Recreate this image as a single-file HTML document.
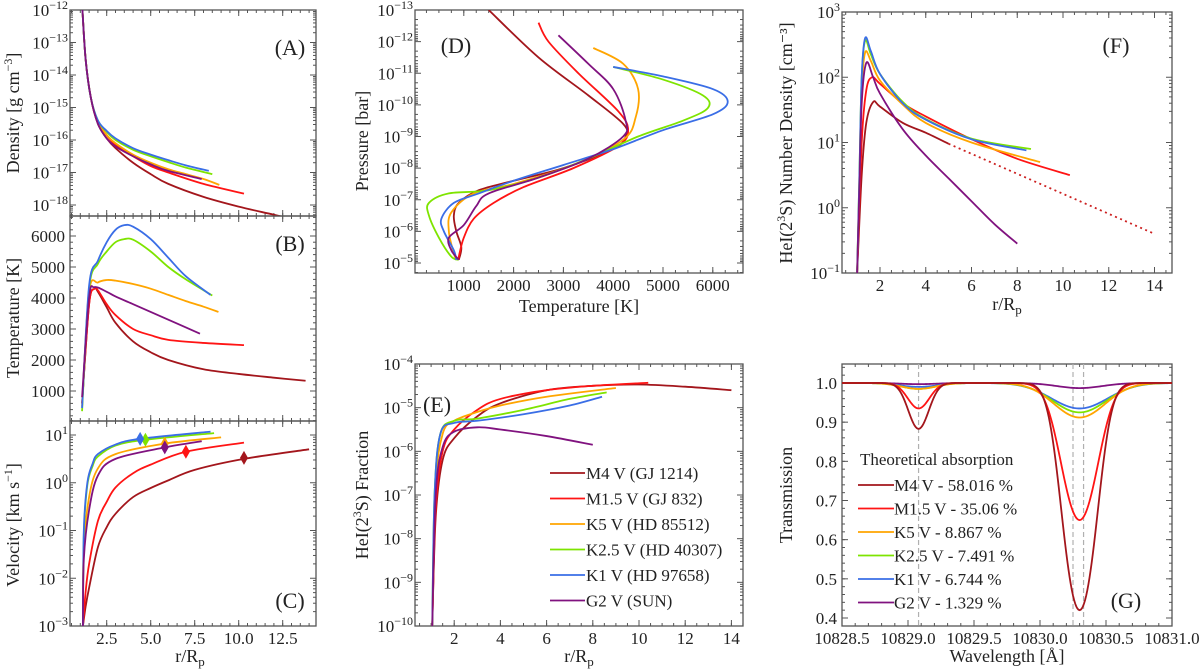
<!DOCTYPE html>
<html><head><meta charset="utf-8"><style>
html,body{margin:0;padding:0;background:#fff;}
svg{display:block;font-family:"Liberation Serif","DejaVu Serif",serif;}
svg text{font-family:"Liberation Serif","DejaVu Serif",serif;}
</style></head><body>
<svg id="fig" width="1200" height="672" viewBox="0 0 1200 672" font-family="Liberation Serif, DejaVu Serif, serif"></svg>
<script>
// ---------- DATA ----------
const seriesNames=['M4 V (GJ 1214)','M1.5 V (GJ 832)','K5 V (HD 85512)','K2.5 V (HD 40307)','K1 V (HD 97658)','G2 V (SUN)'];
const seriesColors=['#a3161c','#ff1414','#ffa500','#7ee400','#3a6ee6','#80127f'];
const absorbLabels=['M4 V - 58.016 %','M1.5 V - 35.06 %','K5 V - 8.867 %','K2.5 V - 7.491 %','K1 V - 6.744 %','G2 V - 1.329 %'];
// Panel A: density (log10 g cm^-3)
const densR=[[1.1,1.3,1.6,2,2.5,3,4,5,6,8,10,12,14],[1.1,1.3,1.6,2,2.5,3,4,5,6,8,10.3],[1.1,1.3,1.6,2,2.5,3,4,5,6,7,8,8.9],[1.1,1.3,1.6,2,2.5,3,4,5,6,7,8.5],[1.1,1.3,1.6,2,2.5,3,4,5,6,7,8.3],[1.1,1.3,1.6,2,2.5,3,4,5,6,7.9]];
const densLog=[[-11.8,-13.5,-14.7,-15.5,-15.95,-16.25,-16.7,-17.05,-17.35,-17.75,-18.05,-18.3,-18.55],[-11.8,-13.5,-14.7,-15.45,-15.85,-16.15,-16.5,-16.8,-17.0,-17.35,-17.65],[-11.8,-13.5,-14.7,-15.45,-15.85,-16.1,-16.45,-16.7,-16.9,-17.05,-17.2,-17.38],[-11.8,-13.5,-14.7,-15.4,-15.75,-16.0,-16.3,-16.5,-16.68,-16.85,-17.05],[-11.8,-13.5,-14.7,-15.4,-15.72,-15.95,-16.25,-16.45,-16.62,-16.78,-16.95],[-11.8,-13.5,-14.7,-15.5,-15.95,-16.2,-16.5,-16.75,-16.95,-17.2]];
// Panel B: temperature (K)
const tempR=[[1.1,1.5,1.8,2,2.5,3,4,5,6,8,10,12,13.8],[1.1,1.5,1.8,2,2.5,3,4,5,6,8,10.3],[1.1,1.5,2,2.5,3,4,5,6,7,8,8.85],[1.1,1.5,2,2.5,3,3.5,4,5,6,7,8.5],[1.1,1.5,2,2.5,3,3.5,4,5,6,7,8.4],[1.1,1.5,1.8,2.5,3,4,5,6,7,7.8]];
const tempK=[[600,3800,4300,4200,3700,3200,2600,2250,2000,1700,1550,1430,1330],[600,3800,4300,4250,3800,3450,3000,2800,2650,2550,2480],[500,4200,4500,4580,4560,4450,4300,4100,3900,3720,3550],[350,4300,5100,5500,5800,5900,5880,5500,5000,4600,4080],[450,4400,5200,5800,6200,6350,6300,5900,5300,4700,4100],[800,4000,4350,4200,4050,3800,3550,3300,3050,2850]];
// Panel C: velocity (log10 km/s)
const velR=[[1.15,1.3,1.5,2,2.5,3,4,5,6,7.5,10.3,14],[1.15,1.3,1.5,2,2.5,3,4,5,7,10.3],[1.15,1.2,1.5,2,3,5.8,9],[1.15,1.2,1.4,1.7,2,3,4.7,8.6],[1.15,1.2,1.4,1.7,2,3,4.4,8.4],[1.15,1.2,1.5,2,3,5.8,7.9]];
const velLog=[[-3,-2.6,-2.2,-1.35,-0.93,-0.65,-0.3,-0.11,0.05,0.27,0.5,0.7],[-3,-2.3,-1.7,-0.8,-0.4,-0.1,0.2,0.38,0.65,0.84],[-3,-1.4,-0.3,0.3,0.6,0.82,0.95],[-3,-1.1,-0.05,0.35,0.55,0.78,0.9,1.04],[-3,-1,0,0.4,0.6,0.8,0.92,1.07],[-3,-1.6,-0.57,0.15,0.5,0.74,0.87]];
const sonicR=[10.3,7.0,5.8,4.7,4.4,5.8];
const sonicLog=[0.52,0.65,0.82,0.9,0.92,0.74];
// Panel D: T (K) vs log10 P (bar)
const ptT=[[1500,2500,3500,4200,4250,4000,3000,2000,1300,900,800,850,950,900],[2500,2700,3300,4100,4300,4100,3200,2200,1600,1200,1000,900,900],[3600,4200,4500,4450,4200,3200,2000,1200,750,700,800,850],[4000,5000,5800,5900,5400,4500,3500,2500,1500,700,300,300,500,750,900],[4000,5000,6000,6300,6000,5000,4000,3000,2000,1300,800,550,600,800,850],[2900,3500,4000,4250,4200,3500,2500,1500,1250,1000,700,750,900]];
const ptLogP=[[-13,-11.5,-10.3,-9.4,-9.0,-8.6,-8.0,-7.6,-7.3,-6.9,-6.5,-6,-5.5,-5.1],[-12.6,-12.0,-11,-9.8,-9.2,-8.7,-8.0,-7.4,-6.9,-6.4,-5.8,-5.2,-5.1],[-11.8,-11.3,-10.5,-9.6,-8.9,-8.1,-7.5,-7.2,-6.6,-6,-5.3,-5.1],[-11.2,-10.8,-10.3,-9.9,-9.5,-9.0,-8.3,-7.7,-7.3,-7.2,-6.9,-6.5,-5.8,-5.2,-5.1],[-11.2,-10.9,-10.5,-10.1,-9.7,-9.2,-8.6,-8.1,-7.6,-7.2,-6.9,-6.4,-6,-5.4,-5.1],[-12.2,-11.3,-10.5,-9.5,-9,-8.3,-7.7,-7.2,-6.8,-6.2,-5.8,-5.4,-5.1]];
// Panel E: HeI(2^3S) fraction (log10)
const fracR=[[1.05,1.2,1.5,2,3,4,6,8,10,12,14],[1.05,1.2,1.5,2,3,4,6,8,10.4],[1.05,1.2,1.5,2,3,4,6,9],[1.05,1.15,1.4,2,3,5,7,8.6],[1.05,1.15,1.4,2,3,5,7,8.4],[1.05,1.2,1.5,2,3,4,6,8]];
const fracLog=[[-10,-7.5,-6.2,-5.7,-5.2,-4.9,-4.6,-4.5,-4.47,-4.52,-4.6],[-10,-7.3,-6,-5.5,-5.05,-4.8,-4.6,-4.5,-4.43],[-10,-6.8,-5.6,-5.3,-5.1,-4.95,-4.75,-4.55],[-10,-7,-5.6,-5.3,-5.25,-5.05,-4.8,-4.65],[-10,-7,-5.6,-5.35,-5.3,-5.15,-4.95,-4.75],[-10,-7,-5.9,-5.55,-5.45,-5.5,-5.65,-5.85]];
// Panel F: HeI(2^3S) number density (log10 cm^-3)
const ndR=[[1.0,1.2,1.4,1.7,2,3,4,5],[1.0,1.2,1.4,1.65,2,3,4,6,8,10.3],[1.0,1.1,1.2,1.35,1.6,2,3,4,6,9],[1.0,1.1,1.2,1.35,1.6,2,3,4,6,8.6],[1.0,1.1,1.2,1.35,1.6,2,3,4,6,8.4],[1.0,1.1,1.2,1.4,1.7,2,3,4,5,6,7,8]];
const ndLog=[[-1,0.5,1.3,1.62,1.55,1.3,1.15,0.98],[-1,1,1.8,2.0,1.9,1.6,1.4,1.05,0.75,0.5],[-1,0.4,1.8,2.38,2.25,1.95,1.58,1.3,1.0,0.7],[-1,0.5,2,2.56,2.35,2.05,1.62,1.36,1.06,0.9],[-1,0.5,2,2.6,2.4,2.05,1.6,1.35,1.05,0.88],[-1,0.3,1.6,2.22,2.0,1.75,1.2,0.8,0.45,0.1,-0.25,-0.55]];
const ndExtrapR=[5,14];
const ndExtrapLog=[0.98,-0.4];
// Panel G: transmission line minima and widths
const lineCenters=[10829.08,10830.30];
const gMinBlue=[0.883,0.935,0.985,0.985,0.99,0.997];
const gMinRed=[0.42,0.65,0.912,0.925,0.935,0.987];
const gSigBlue=[0.075,0.08,0.13,0.13,0.14,0.13];
const gSigRed=[0.11,0.125,0.19,0.2,0.21,0.17];
const dashedLines=[10829.08,10830.25,10830.33];

// ---------- HELPERS ----------
const NS='http://www.w3.org/2000/svg';
const FONT='Liberation Serif, DejaVu Serif, serif';
const svg=document.getElementById('fig');
function el(tag,attrs,parent){const e=document.createElementNS(NS,tag);for(const k in attrs)e.setAttribute(k,attrs[k]);if(tag==='text')e.setAttribute('font-family',FONT);(parent||svg).appendChild(e);return e;}
function lin(d0,d1,p0,p1){return v=>p0+(v-d0)/(d1-d0)*(p1-p0);}
function smoothPath(pts){
  if(pts.length<2)return '';
  let d='M'+pts[0][0].toFixed(2)+','+pts[0][1].toFixed(2);
  for(let i=0;i<pts.length-1;i++){
    const p0=pts[i-1]||pts[i],p1=pts[i],p2=pts[i+1],p3=pts[i+2]||p2;
    const c1=[p1[0]+(p2[0]-p0[0])/6,p1[1]+(p2[1]-p0[1])/6];
    const c2=[p2[0]-(p3[0]-p1[0])/6,p2[1]-(p3[1]-p1[1])/6];
    d+='C'+c1[0].toFixed(2)+','+c1[1].toFixed(2)+' '+c2[0].toFixed(2)+','+c2[1].toFixed(2)+' '+p2[0].toFixed(2)+','+p2[1].toFixed(2);
  }
  return d;
}
function logLabel(g,x,y,exp){
  const t=el('text',{x:x,y:y,'font-size':17,'text-anchor':'end',fill:'#222'},g);
  t.appendChild(document.createTextNode('10'));
  const s=el('tspan',{dy:-7,'font-size':12},t);
  s.textContent=(exp<0?'\u2212':'')+Math.abs(exp);
  return t;
}
let clipId=0;
function makeAxes(name,p){
  const g=el('g',{});
  
  
  const tk=(x1,y1,x2,y2)=>el('line',{x1,y1,x2,y2,stroke:'#555','stroke-width':1},g);
  (p.xMinor||[]).forEach(v=>{const X=p.sx(v);if(X<p.x0-0.5||X>p.x1+0.5)return;tk(X,p.y1,X,p.y1-3);tk(X,p.y0,X,p.y0+3);});
  (p.xMajor||[]).forEach(v=>{const X=p.sx(v);if(X<p.x0-0.5||X>p.x1+0.5)return;tk(X,p.y1,X,p.y1-6);tk(X,p.y0,X,p.y0+6);});
  (p.yMinor||[]).forEach(v=>{const Y=p.sy(v);if(Y<p.y0-0.5||Y>p.y1+0.5)return;tk(p.x0,Y,p.x0+3,Y);tk(p.x1,Y,p.x1-3,Y);});
  (p.yMajor||[]).forEach(v=>{const Y=p.sy(v);if(Y<p.y0-0.5||Y>p.y1+0.5)return;tk(p.x0,Y,p.x0+6,Y);tk(p.x1,Y,p.x1-6,Y);});
  el('rect',{x:p.x0,y:p.y0,width:p.x1-p.x0,height:p.y1-p.y0,fill:'none',stroke:'#555','stroke-width':1.3},g);
  if(p.xLabels){p.xLabels.forEach((lab,i)=>{const t=el('text',{x:p.sx(p.xMajorLab[i]),y:p.y1+18,'font-size':17,'text-anchor':'middle',fill:'#222'},g);t.textContent=lab;});}
  if(p.yLogLabels){p.yLogLabels.forEach(e=>{const Y=p.sy(e);logLabel(g,p.x0-2,Y+6,e);});}
  if(p.yLabels){p.yLabels.forEach((lab,i)=>{const t=el('text',{x:p.x0-5,y:p.sy(p.yLabVals[i])+6,'font-size':17,'text-anchor':'end',fill:'#222'},g);t.textContent=lab;});}
  const cp=el('clipPath',{id:'clip'+(++clipId)});
  el('rect',{x:p.x0,y:p.y0,width:p.x1-p.x0,height:p.y1-p.y0},cp);
  const plot=el('g',{'clip-path':'url(#clip'+clipId+')'});
  
  
  return plot;
}
function range(a,b,s){const r=[];for(let v=a;v<=b+1e-9;v+=s)r.push(+v.toFixed(6));return r;}
function logMinor(a,b){const r=[];for(let e=a;e<b;e++)for(let k=2;k<=9;k++)r.push(e+Math.log10(k));return r;}
function drawSeries(plot,xs,ys,sx,sy,color,name,dash){
  const pts=xs.map((x,i)=>[sx(x),sy(ys[i])]);
  const path=el('path',{d:smoothPath(pts),fill:'none',stroke:color,'stroke-width':1.8,'stroke-linejoin':'round'},plot);
  if(dash)path.setAttribute('stroke-dasharray',dash);
  
  
  return path;
}
function axisText(txt,x,y,rot,name,sub,sup,rest){
  const t=el('text',{x:x,y:y,'font-size':18,'text-anchor':'middle',fill:'#222'});
  if(rot)t.setAttribute('transform','rotate(-90 '+x+' '+y+')');
  
  
  t.appendChild(document.createTextNode(txt));
  if(sub){const s=el('tspan',{dy:4,'font-size':13},t);s.textContent=sub;}
  if(sup){const s=el('tspan',{dy:-7,'font-size':12},t);s.textContent=sup;const r=el('tspan',{dy:7},t);r.textContent=rest||'';}
  return t;
}
function panelLetter(txt,x,y,name){
  const t=el('text',{x:x,y:y,'font-size':22,'text-anchor':'middle',fill:'#222'});
  t.textContent=txt;
  
  
}

// ---------- LEFT COLUMN ----------
const rX=lin(0,1,62.7,80.3);
const rMinor=range(0.5,15,0.5);
const syA=lin(-12,-18,10,205);
const pA=makeAxes('density-axes',{x0:70,x1:316,y0:10,y1:216,sx:rX,sy:syA,xMajor:[2.5,5,7.5,10,12.5],xMinor:rMinor,yMajor:range(-18,-12,1),yMinor:logMinor(-19,-12),yLogLabels:[-12,-13,-14,-15,-16,-17,-18]});
densR.forEach((xs,i)=>drawSeries(pA,xs,densLog[i],rX,syA,seriesColors[i],'density-line-'+i));
panelLetter('(A)',290,55,'panel-label-a');
axisText('Density [g cm',19,113,true,'density-y-title',null,'\u22123',']');
const syB=lin(1000,6000,391,236);
const pB=makeAxes('temperature-axes',{x0:70,x1:316,y0:216,y1:421,sx:rX,sy:syB,xMajor:[2.5,5,7.5,10,12.5],xMinor:rMinor,yMajor:range(1000,6000,1000),yMinor:range(200,6600,200),yLabels:['1000','2000','3000','4000','5000','6000'],yLabVals:[1000,2000,3000,4000,5000,6000]});
tempR.forEach((xs,i)=>drawSeries(pB,xs,tempK[i],rX,syB,seriesColors[i],'temperature-line-'+i));
panelLetter('(B)',290,251,'panel-label-b');
axisText('Temperature [K]',19,318,true,'temperature-y-title');
const syC=lin(1,-3,435,626);
const pC=makeAxes('velocity-axes',{x0:70,x1:316,y0:421,y1:626,sx:rX,sy:syC,xMajor:[2.5,5,7.5,10,12.5],xMinor:rMinor,yMajor:[-3,-2,-1,0,1],yMinor:logMinor(-3,2),yLogLabels:[-3,-2,-1,0,1],xLabels:['2.5','5.0','7.5','10.0','12.5'],xMajorLab:[2.5,5,7.5,10,12.5]});
velR.forEach((xs,i)=>drawSeries(pC,xs,velLog[i],rX,syC,seriesColors[i],'velocity-line-'+i));
sonicR.forEach((r,i)=>{const X=rX(r),Y=syC(sonicLog[i]);const d=el('path',{d:`M${X},${Y-7}L${X+4},${Y}L${X},${Y+7}L${X-4},${Y}Z`,fill:seriesColors[i]},pC);
  
  });
panelLetter('(C)',290,608,'panel-label-c');
axisText('Velocity [km s',19,525,true,'velocity-y-title',null,'\u22121',']');
axisText('r/R',190,662,false,'left-x-title','p');

// ---------- D ----------
const sxD=lin(0,1000,414,463.8);
const syD=lin(-13,-5,10,263);
const pD=makeAxes('pressure-axes',{x0:415,x1:743,y0:10,y1:273,sx:sxD,sy:syD,xMajor:range(1000,6000,1000),xMinor:range(250,6500,250),yMajor:range(-13,-5,1),yMinor:logMinor(-13,-4),yLogLabels:[-13,-12,-11,-10,-9,-8,-7,-6,-5],xLabels:['1000','2000','3000','4000','5000','6000'],xMajorLab:[1000,2000,3000,4000,5000,6000]});
ptT.forEach((xs,i)=>drawSeries(pD,xs,ptLogP[i],sxD,syD,seriesColors[i],'pressure-temperature-line-'+i));
panelLetter('(D)',456,53,'panel-label-d');
axisText('Pressure [bar]',368,141,true,'pressure-y-title');
axisText('Temperature [K]',579,312,false,'pt-x-title');

// ---------- E ----------
const sxE=lin(0,2,408,454.2);
const syE=lin(-4,-10,364,626);
const pE=makeAxes('fraction-axes',{x0:415,x1:743,y0:364,y1:626,sx:sxE,sy:syE,xMajor:range(2,14,2),xMinor:range(0.5,14.5,0.5),yMajor:range(-10,-4,1),yMinor:logMinor(-10,-4),yLogLabels:[-10,-9,-8,-7,-6,-5,-4],xLabels:['2','4','6','8','10','12','14'],xMajorLab:[2,4,6,8,10,12,14]});
fracR.forEach((xs,i)=>drawSeries(pE,xs,fracLog[i],sxE,syE,seriesColors[i],'fraction-line-'+i));
panelLetter('(E)',437,412,'panel-label-e');
axisText('HeI(2',368,495,true,'fraction-y-title',null,'3','S) Fraction');
axisText('r/R',579,662,false,'fraction-x-title','p');
const legE=el('g',{});


seriesNames.forEach((n,i)=>{const y=473+i*25.5;
  const ln=el('line',{x1:550,y1:y,x2:585,y2:y,stroke:seriesColors[i],'stroke-width':1.8},legE);
  
  
  const t=el('text',{x:586,y:y+6,'font-size':17,fill:'#222'},legE);t.textContent=n;
  
  });

// ---------- F ----------
const sxF=lin(2,10,880,1063);
const syF=lin(3,-1,12,273);
const pF=makeAxes('number-density-axes',{x0:842,x1:1172,y0:12,y1:273,sx:sxF,sy:syF,xMajor:range(2,14,2),xMinor:range(0.5,14.5,0.5),yMajor:[-1,0,1,2,3],yMinor:logMinor(-1,3),yLogLabels:[-1,0,1,2,3],xLabels:['2','4','6','8','10','12','14'],xMajorLab:[2,4,6,8,10,12,14]});
ndR.forEach((xs,i)=>drawSeries(pF,xs,ndLog[i],sxF,syF,seriesColors[i],'number-density-line-'+i));
drawSeries(pF,ndExtrapR,ndExtrapLog,sxF,syF,'#cc2020','number-density-extrapolation','2,3.5');
panelLetter('(F)',1116,53,'panel-label-f');
axisText('HeI(2',792,143,true,'number-density-y-title',null,'3','S) Number Density [cm\u207B\u00B3]');
axisText('r/R',1007,310,false,'number-density-x-title','p');

// ---------- G ----------
const sxG=lin(10828.5,10831.0,842,1172);
const syG=lin(1.0,0.4,383,618);
const pG=makeAxes('transmission-axes',{x0:842,x1:1172,y0:364,y1:626,sx:sxG,sy:syG,xMajor:range(10828.5,10831,0.5),xMinor:range(10828.5,10831,0.1),yMajor:range(0.4,1.0,0.1),yMinor:range(0.4,1.04,0.02),yLabels:['0.4','0.5','0.6','0.7','0.8','0.9','1.0'],yLabVals:[0.4,0.5,0.6,0.7,0.8,0.9,1.0],xLabels:['10828.5','10829.0','10829.5','10830.0','10830.5','10831.0'],xMajorLab:[10828.5,10829,10829.5,10830,10830.5,10831]});
dashedLines.forEach(w=>{const X=sxG(w);const l=el('line',{x1:X,y1:364,x2:X,y2:626,stroke:'#b0b0b0','stroke-width':1.2,'stroke-dasharray':'5,3'},pG);
  
  });
const order=[5,4,3,2,1,0];
order.forEach(i=>{const pts=[];
  for(let k=0;k<=300;k++){const w=10828.5+k*2.5/300;
    const t1=-Math.log(gMinBlue[i])*Math.exp(-Math.pow(w-lineCenters[0],2)/(2*gSigBlue[i]*gSigBlue[i]));
    const t2=-Math.log(gMinRed[i])*Math.exp(-Math.pow(w-lineCenters[1],2)/(2*gSigRed[i]*gSigRed[i]));
    pts.push([sxG(w),syG(Math.exp(-t1-t2))]);}
  const p=el('path',{d:'M'+pts.map(q=>q[0].toFixed(2)+','+q[1].toFixed(2)).join('L'),fill:'none',stroke:seriesColors[i],'stroke-width':1.8},pG);
  
  });
panelLetter('(G)',1126,608,'panel-label-g');
axisText('Transmission',792,495,true,'transmission-y-title');
axisText('Wavelength [\u00C5]',1007,662,false,'wavelength-x-title');
const legG=el('g',{});


const lt=el('text',{x:860,y:465,'font-size':17,fill:'#222'},legG);lt.textContent='Theoretical absorption';


absorbLabels.forEach((n,i)=>{const y=485+i*23.5;
  const ln=el('line',{x1:858,y1:y,x2:894,y2:y,stroke:seriesColors[i],'stroke-width':1.8},legG);
  
  
  const t=el('text',{x:894,y:y+6,'font-size':17,fill:'#222'},legG);t.textContent=n;
  
  });
</script>
</body></html>
